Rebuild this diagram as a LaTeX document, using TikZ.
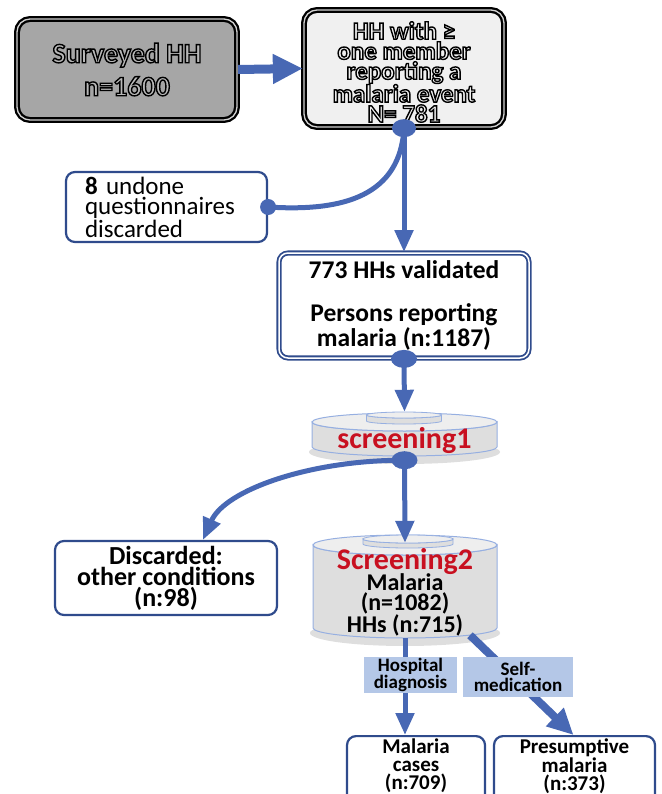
\documentclass[tikz,border=0pt]{standalone}
\usepackage{fontspec}
\setmainfont{Carlito}
\usetikzlibrary{arrows.meta,calc}
\definecolor{connblue}{RGB}{72,104,180}
\definecolor{boxblue}{RGB}{47,75,140}
\definecolor{lab}{RGB}{180,199,231}
\definecolor{cylfill}{RGB}{222,222,222}
\definecolor{cyltop}{RGB}{238,238,238}
\definecolor{cylline}{RGB}{150,175,225}
\definecolor{scrred}{RGB}{200,16,32}
\definecolor{survgray}{RGB}{166,166,166}
\definecolor{hhgray}{RGB}{240,240,240}
\newcommand\otl[1]{\special{pdf:literal direct 2 Tr 1.4 w 0 G}#1\special{pdf:literal direct 0 Tr}}
\newcommand\drawcyl[5]{%
  \fill[black,opacity=.13] (#1,#3+5) ellipse [x radius=#4+3, y radius=#5+3];
  \path[fill=cylfill, draw=cylline, line width=1pt] (#1-#4,#2) -- (#1-#4,#3)
     arc[start angle=180, end angle=0, x radius=#4, y radius=#5] -- (#1+#4,#2)
     arc[start angle=0, end angle=180, x radius=#4, y radius=#5] -- cycle;
  \path[fill=cyltop, draw=cylline, line width=1pt] (#1,#2) ellipse [x radius=#4, y radius=#5];
}
\newcommand\drawtab[5]{%
  \path[fill=cylfill, draw=cylline, line width=0.8pt] (#1-#4,#2) -- (#1-#4,#3)
     arc[start angle=180, end angle=0, x radius=#4, y radius=#5] -- (#1+#4,#2)
     arc[start angle=0, end angle=180, x radius=#4, y radius=#5] -- cycle;
  \path[fill=cyltop, draw=cylline, line width=0.8pt] (#1,#2) ellipse [x radius=#4, y radius=#5];
}
\begin{document}
\begin{tikzpicture}[x=1pt,y=-1pt,
  link/.style={draw=connblue, line width=5pt},
  arrowhd/.style={-{Triangle[length=22pt,width=18pt]}},
  blbox/.style={draw=boxblue, line width=2.2pt, rounded corners=9pt, fill=white, inner sep=0pt},
  blkbox/.style={draw=black, line width=2.3pt, double=gray!35, double distance=1.3pt, rounded corners=13pt, inner sep=0pt},
  labbox/.style={fill=lab, inner sep=0pt, align=center, font=\fontsize{19}{16}\selectfont\bfseries},
  dotmark/.style={fill=connblue}
]
\useasboundingbox (0,0) rectangle (661,794);
\clip (0,0) rectangle (661,794);

% cylinders
\drawcyl{404.5}{422}{447}{92.5}{9}
\drawtab{404}{415}{421}{37.5}{3}
\drawcyl{405}{545}{628}{92}{10}
\drawtab{408}{539}{544}{45}{4}
\node[minimum width=185, minimum height=44, inner sep=0pt] (s1) at (404.5,434) {};
\node[minimum width=184, minimum height=103, inner sep=0pt] (s2) at (405,586.5) {};
\node[text=scrred, font=\fontsize{30}{30}\selectfont\bfseries] (s1t) at (404.5,441) {screening1};
\node[text=scrred, font=\fontsize{30}{30}\selectfont\bfseries] (s2t) at (405,562) {Screening2};
\node[align=center, font=\fontsize{24}{19.5}\selectfont\bfseries] (s2n) at (405,605) {Malaria\\(n=1082)\\HHs (n:715)};

% boxes
\node[blkbox, fill=survgray, minimum width=220, minimum height=101] (surv) at (127,69.5) {};
\node[align=center, font=\fontsize{28}{33}\selectfont\bfseries, text=survgray!80] (survt) at (127,69.5)
      {\otl{Surveyed HH}\\\otl{n=1600}};
\node[blkbox, fill=hhgray, minimum width=200, minimum height=117] (hh) at (404,68.5) {};
\node[align=center, font=\fontsize{25}{20}\selectfont\bfseries, text=hhgray] (hht) at (404,72)
      {\otl{HH with ≥}\\\otl{one member}\\\otl{reporting a}\\\otl{malaria event}\\\otl{N= 781}};
\node[blbox, minimum width=201, minimum height=70, text width=163, align=left,
      font=\fontsize{25}{20.5}\selectfont] (undone) at (166.5,207)
      {\textbf{8} undone\\questionnaires\\discarded};
\node[blbox, double=white, double distance=1.5pt, line width=1.8pt, minimum width=250, minimum height=105,
      align=center, font=\fontsize{25.5}{21.5}\selectfont\bfseries] (val) at (404,305.5)
      {773 HHs validated\\[21.5pt]Persons reporting\\malaria (n:1187)};
\node[blbox, minimum width=222, minimum height=74, align=center,
      font=\fontsize{26}{21}\selectfont\bfseries] (disc) at (166,578)
      {Discarded:\\other conditions\\(n:98)};
\node[blbox, minimum width=138, minimum height=70, anchor=north] (mcases) at (416,735) {};
\node[align=center, font=\fontsize{21}{18}\selectfont\bfseries] (mcasest) at (416,766) {Malaria\\cases\\(n:709)};
\node[blbox, minimum width=161, minimum height=70, anchor=north] (presum) at (574.5,735) {};
\node[align=center, font=\fontsize{21}{18}\selectfont\bfseries] (presumt) at (574.5,766) {Presumptive\\malaria\\(n:373)};

% connectors
\draw[link, line width=9pt, -{Triangle[length=30pt,width=28pt]}] (surv.east) -- (hh.west);
\draw[link, arrowhd] (hh.south) -- (val.north);
\draw[link] (hh.south) .. controls (400,195) and (345,212) .. (undone.east);
\draw[link, arrowhd] (val.south) -- (s1.north);
\draw[link, arrowhd] ($(s1.south)+(0,4)$) -- ($(s2.north)+(0,8)$);
\draw[link, arrowhd] ($(s1.south)+(0,4)$) .. controls (310,460) and (225,490) .. ($(disc.north)+(37,0)$);
\draw[link, arrowhd] (s2.south) -- (s2.south |- mcases.north);
\draw[link, line width=8pt, -{Triangle[length=26pt,width=24pt]}] ($(s2.south)+(65,-3)$) -- ($(presum.north)+(-1,0)$);

% dots
\fill[dotmark] (hh.south) ellipse [x radius=12, y radius=9];
\fill[dotmark] (undone.east) circle [radius=8];
\fill[dotmark] (val.south) ellipse [x radius=13, y radius=9];
\fill[dotmark] ($(s1.south)+(0,4)$) ellipse [x radius=13, y radius=9];

% labels
\node[labbox, minimum width=93, minimum height=36] (hosp) at (410.5,675) {Hospital\\diagnosis};
\node[labbox, minimum width=110, minimum height=40] (selfm) at (518,677) {Self-\\medication};
\end{tikzpicture}
\end{document}
